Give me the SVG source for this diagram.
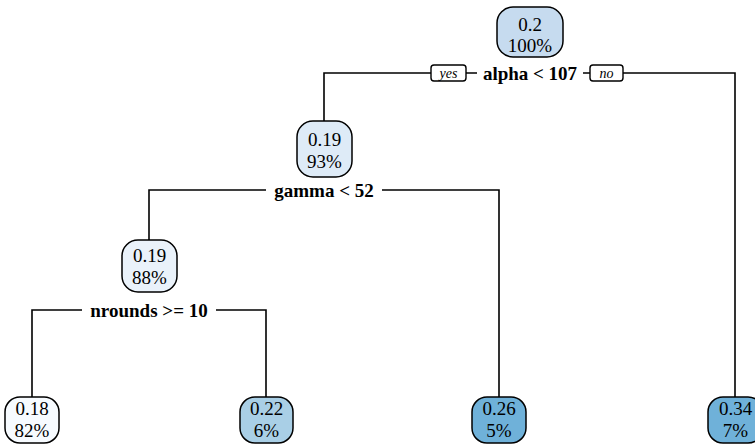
<svg xmlns="http://www.w3.org/2000/svg" width="755" height="445" viewBox="0 0 755 445">
<style>
text{font-family:'Liberation Serif','Times New Roman',Times,serif;fill:#000;text-anchor:middle}
.box{stroke:#000;stroke-width:1.5}
.val{font-size:19px}
.lbl{font-size:19px;font-weight:bold}
.yn{font-size:14px;font-style:italic}
.yb{fill:#fff;stroke:#000;stroke-width:1.4}
.ln{stroke:#000;stroke-width:1.6;fill:none}
</style>
<rect width="755" height="445" fill="#fff"/>
<g id="connectors">
<path class="ln" d="M324,121 V73 H431 M466,73 H477 M583,73 H590 M623,73 H735 V397"/>
<path class="ln" d="M149,240 V190 H266 M382,190 H499 V397"/>
<path class="ln" d="M32,397 V310 H82 M216,310 H266 V397"/>
<rect class="yb" x="431" y="65" width="35" height="16" rx="3"/>
<text class="yn" x="448.5" y="77.5">yes</text>
<rect class="yb" x="590" y="65" width="33" height="16" rx="3"/>
<text class="yn" x="606.5" y="77.5">no</text>
<text class="lbl" x="530" y="79.5">alpha &lt; 107</text>
<text class="lbl" x="324" y="196.5">gamma &lt; 52</text>
<text class="lbl" x="149" y="316.5">nrounds &gt;= 10</text>
</g>
<g id="n1">
<rect class="box" x="497" y="7" width="66" height="50" rx="16" fill="#c6dbef"/>
<text class="val" x="530" y="30.5">0.2</text>
<text class="val" x="530" y="52">100%</text>
</g>
<g id="n2">
<rect class="box" x="297" y="121" width="55" height="56" rx="16" fill="#deebf7"/>
<text class="val" x="324.5" y="146">0.19</text>
<text class="val" x="324.5" y="167.5">93%</text>
</g>
<g id="n4">
<rect class="box" x="122" y="240" width="55" height="52" rx="16" fill="#eaf2fa"/>
<text class="val" x="149.5" y="262">0.19</text>
<text class="val" x="149.5" y="283.5">88%</text>
</g>
<g id="n8">
<rect class="box" x="5" y="397" width="54" height="46" rx="15" fill="#f7fbff"/>
<text class="val" x="32" y="415">0.18</text>
<text class="val" x="32" y="436.5">82%</text>
</g>
<g id="n9">
<rect class="box" x="240" y="397" width="53" height="46" rx="15" fill="#a9cfe6"/>
<text class="val" x="266.5" y="415">0.22</text>
<text class="val" x="266.5" y="436.5">6%</text>
</g>
<g id="n5">
<rect class="box" x="472" y="397" width="54" height="46" rx="15" fill="#6fb1d9"/>
<text class="val" x="499" y="415">0.26</text>
<text class="val" x="499" y="436.5">5%</text>
</g>
<g id="n3">
<rect class="box" x="708" y="397" width="55" height="46" rx="15" fill="#6fb1d9"/>
<text class="val" x="735.5" y="415">0.34</text>
<text class="val" x="735.5" y="436.5">7%</text>
</g>
</svg>
